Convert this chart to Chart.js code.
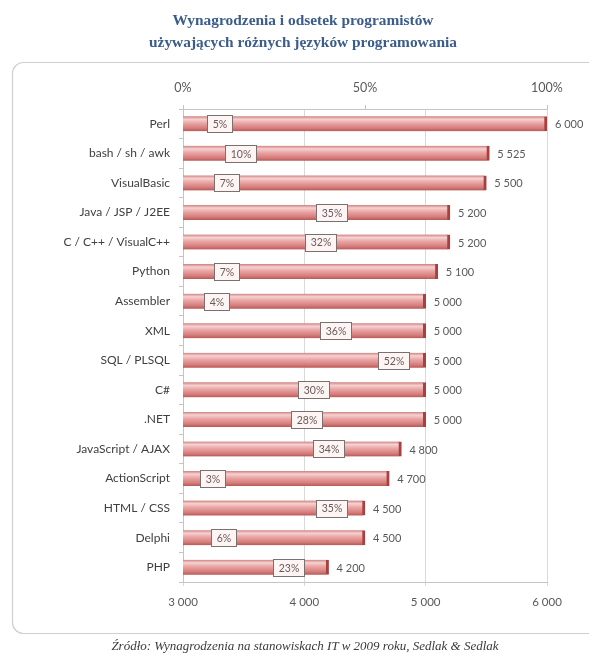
<!DOCTYPE html>
<html lang="pl">
<head>
<meta charset="utf-8">
<title>Wynagrodzenia i odsetek programistów</title>
<script src="https://cdn.jsdelivr.net/npm/chart.js@4.4.1/dist/chart.umd.min.js"></script>
<style>
  html, body { margin: 0; padding: 0; background: #ffffff; }
  #wrap { width: 589px; height: 658px; position: relative; overflow: hidden; }
  #chart { position: absolute; left: 0; top: 0; }
  #title {
    position: absolute; left: 0; top: 9px; width: 606px; text-align: center;
    font: bold 15.4px/22px "Liberation Serif", "Times New Roman", serif;
    color: #3b5c8c; white-space: nowrap;
  }
  #source {
    position: absolute; left: 0; top: 638px; width: 610px; text-align: center;
    font: italic 13px/16px "Liberation Serif", "Times New Roman", serif;
    color: #3a3a3a; white-space: nowrap;
  }
</style>
</head>
<body>
<div id="wrap">
  <canvas id="chart" width="589" height="658"></canvas>
  <div id="title">Wynagrodzenia i odsetek programistów<br>używających różnych języków programowania</div>
  <div id="source">Źródło: Wynagrodzenia na stanowiskach IT w 2009 roku, Sedlak &amp; Sedlak</div>
</div>
<script>
// Languages, top to bottom
const languages = [
  'Perl', 'bash / sh / awk', 'VisualBasic', 'Java / JSP / J2EE', 'C / C++ / VisualC++',
  'Python', 'Assembler', 'XML', 'SQL / PLSQL', 'C#', '.NET', 'JavaScript / AJAX',
  'ActionScript', 'HTML / CSS', 'Delphi', 'PHP'
];
// Median salary (PLN)
const salaries = [6000, 5525, 5500, 5200, 5200, 5100, 5000, 5000, 5000, 5000, 5000, 4800, 4700, 4500, 4500, 4200];
// Share of programmers using the language (%)
const shares = [5, 10, 7, 35, 32, 7, 4, 36, 52, 30, 28, 34, 3, 35, 6, 23];
// Axis ticks
const salaryTicks = [3000, 4000, 5000, 6000];
const shareTicks = [0, 50, 100];

const fmt = v => {
  const s = String(Math.round(v));
  return s.length > 3 ? s.slice(0, s.length - 3) + ' ' + s.slice(-3) : s;
};

const LABEL_FONT = 'Lato, "Open Sans", sans-serif';
const GREY_TXT = '#595959';
const AXIS_GREY = '#c4c4c4';
const BAR_H = 15;
const BAR_FLAT = '#e6a09f';

// Rounded frame behind the plot
const framePlugin = {
  id: 'frame',
  beforeDraw(chart) {
    const ctx = chart.ctx;
    ctx.save();
    ctx.fillStyle = '#ffffff';
    ctx.fillRect(0, 0, chart.width, chart.height);
    ctx.beginPath();
    ctx.roundRect(12.5, 62.5, 600, 571, 11);
    ctx.strokeStyle = '#cfcfcf';
    ctx.lineWidth = 1.2;
    ctx.stroke();
    ctx.restore();
  }
};

// Cylinder-like shading for each salary bar
function barShade(c) {
  const chart = c.chart;
  const ys = chart.scales && chart.scales.y;
  if (!ys || c.type !== 'data') return BAR_FLAT;
  const yc = ys.getPixelForValue(c.dataIndex);
  if (!Number.isFinite(yc)) return BAR_FLAT;
  const g = chart.ctx.createLinearGradient(0, yc - BAR_H / 2, 0, yc + BAR_H / 2);
  g.addColorStop(0, '#cf7f7e');
  g.addColorStop(0.2, '#f5d2d1');
  g.addColorStop(0.45, '#eaa6a5');
  g.addColorStop(0.8, '#d47c7b');
  g.addColorStop(1, '#b85856');
  return g;
}

// Value labels: salary after each bar, share in a framed box
const labelPlugin = {
  id: 'labels',
  afterDatasetsDraw(chart) {
    const ctx = chart.ctx;
    ctx.save();
    ctx.textBaseline = 'middle';
    ctx.font = '11px ' + LABEL_FONT;
    chart.getDatasetMeta(0).data.forEach((el, i) => {
      ctx.fillStyle = GREY_TXT;
      ctx.textAlign = 'left';
      ctx.fillText(fmt(salaries[i]), el.x + 8, el.y + 1);
    });
    ctx.font = '10.5px ' + LABEL_FONT;
    chart.getDatasetMeta(1).data.forEach((el, i) => {
      const txt = shares[i] + '%';
      const w = Math.round(ctx.measureText(txt).width + 10);
      const h = 17;
      const x = Math.round(el.x + 6) + 0.5;
      const y = Math.round(el.y - h / 2) + 0.5;
      ctx.fillStyle = '#fdf4f4';
      ctx.fillRect(x, y, w, h);
      ctx.strokeStyle = '#7a7070';
      ctx.lineWidth = 1;
      ctx.strokeRect(x, y, w, h);
      ctx.fillStyle = '#6a5a5a';
      ctx.textAlign = 'center';
      ctx.fillText(txt, x + w / 2, el.y + 1);
    });
    ctx.restore();
  }
};

new Chart(document.getElementById('chart'), {
  type: 'bar',
  data: {
    labels: languages,
    datasets: [
      {
        label: 'Wynagrodzenie',
        data: salaries,
        xAxisID: 'x',
        grouped: false,
        barThickness: BAR_H,
        backgroundColor: barShade,
        borderColor: '#a8403f',
        borderWidth: { right: 3, left: 0, top: 0, bottom: 0 },
        borderSkipped: false
      },
      {
        label: 'Odsetek programistów',
        data: shares,
        xAxisID: 'x2',
        grouped: false,
        barThickness: BAR_H,
        backgroundColor: 'rgba(0,0,0,0)',
        borderWidth: 0
      }
    ]
  },
  options: {
    indexAxis: 'y',
    responsive: false,
    animation: false,
    events: [],
    layout: { padding: { left: 0, right: 42, top: 70, bottom: 40.2 } },
    plugins: {
      legend: { display: false },
      tooltip: { enabled: false }
    },
    scales: {
      y: {
        type: 'category',
        afterFit(scale) { scale.width = 183; },
        grid: { display: true, drawOnChartArea: false, offset: true, color: AXIS_GREY, tickLength: 4 },
        border: { display: true, color: AXIS_GREY },
        ticks: { color: '#404040', font: { family: LABEL_FONT, size: 12 }, padding: 9 }
      },
      x: {
        type: 'linear',
        position: 'bottom',
        min: 3000,
        max: 6000,
        afterBuildTicks(scale) { scale.ticks = salaryTicks.map(v => ({ value: v })); },
        grid: { color: '#d9d9d9', tickLength: 4, drawTicks: true },
        border: { display: true, color: AXIS_GREY },
        ticks: { color: GREY_TXT, font: { family: LABEL_FONT, size: 11.5 }, padding: 9, callback: v => fmt(v) }
      },
      x2: {
        type: 'linear',
        position: 'top',
        min: 0,
        max: 100,
        afterBuildTicks(scale) { scale.ticks = shareTicks.map(v => ({ value: v })); },
        grid: { drawOnChartArea: false, color: AXIS_GREY, tickLength: 4 },
        border: { display: true, color: AXIS_GREY },
        ticks: { color: GREY_TXT, font: { family: LABEL_FONT, size: 12.5 }, padding: 10, callback: v => v + '%' }
      }
    }
  },
  plugins: [framePlugin, labelPlugin]
});
</script>
</body>
</html>
